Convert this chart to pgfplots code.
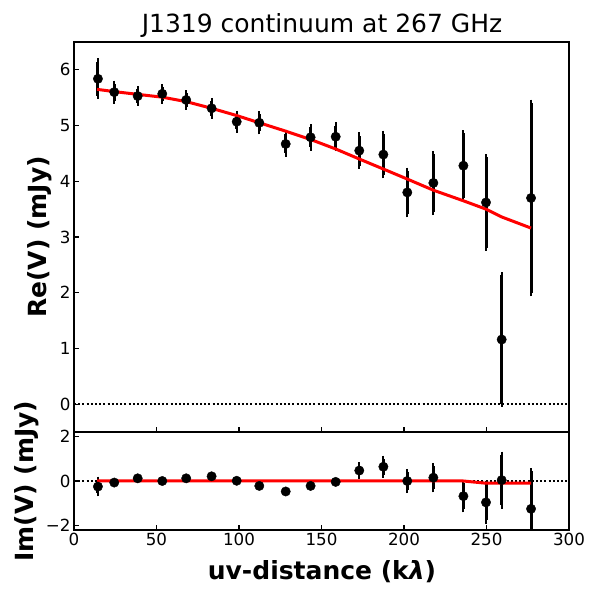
\documentclass[border=0pt]{standalone}
\usepackage{fontspec}
\setmainfont{DejaVu Sans}
\usepackage{pgfplots}
\pgfplotsset{compat=1.18}
\usepackage{pgfplotstable}

\pgfplotstableread{
x re ere im eim
14.5 5.84 0.31 -0.25 0.30
24.4 5.60 0.15 -0.07 0.0
38.6 5.53 0.12 0.12 0.0
53.5 5.57 0.12 0.00 0.0
68.0 5.46 0.12 0.12 0.0
83.4 5.31 0.13 0.21 0.0
98.6 5.07 0.14 0.01 0.0
112.3 5.05 0.15 -0.22 0.0
128.3 4.67 0.17 -0.47 0.0
143.4 4.79 0.18 -0.22 0.0
158.6 4.80 0.20 -0.04 0.05
172.9 4.55 0.27 0.47 0.22
187.5 4.48 0.37 0.64 0.36
202.0 3.80 0.39 0.00 0.40
217.8 3.97 0.52 0.15 0.52
236.0 4.28 0.58 -0.68 0.58
249.7 3.62 0.81 -0.96 0.81
259.2 1.16 1.15 0.04 1.14
277.0 3.70 1.71 -1.25 1.68
}\data

\pgfplotstableread{
x re im
14.0 5.65 0.0
24.4 5.61 0.0
38.6 5.56 0.0
53.5 5.51 0.0
68.0 5.43 0.0
83.4 5.31 0.0
98.6 5.18 0.0
112.3 5.05 0.0
128.3 4.90 0.0
143.4 4.75 0.0
158.6 4.58 0.0
172.9 4.40 0.0
187.5 4.22 0.0
202.0 4.04 0.0
217.8 3.84 0.0
236.0 3.65 0.0
249.7 3.50 -0.1
259.2 3.36 -0.1
277.0 3.16 -0.1
}\model

\pgfplotsset{
  myaxis/.style={
    anchor=south west, scale only axis, width=495bp,
    xmin=0, xmax=300, xtick={0,50,...,300},
    tick align=inside, tick pos=left,
    major tick length=5bp,
    every tick/.style={black, line width=1.1bp},
    axis line style={line width=1.1bp, black},
    ticklabel style={font=\fontsize{16.7bp}{20bp}\selectfont},
    /pgf/number format/assume math mode=true,
    clip=true,
  },
  errstyle/.style={only marks, mark=none, black,
    error bars/.cd, y dir=both, y explicit,
    error bar style={line width=3bp, black},
    error mark=-,
    error mark options={line width=2bp, mark size=3.2bp, black}},
  markstyle/.style={only marks, mark=*, black, mark size=4.7bp,
    mark options={solid, fill=black}},
  zerostyle/.style={black, line width=2bp, dash pattern=on 2bp off 2.2bp},
  modelstyle/.style={red, line width=3bp, no markers},
}

\begin{document}
\begin{tikzpicture}
\useasboundingbox (0,0) rectangle (600bp,600bp);
\begin{axis}[myaxis, at={(74bp,168bp)}, height=390bp,
  ymin=-0.5, ymax=6.5, ytick={0,1,...,6}, xticklabels={}]
\addplot[zerostyle] coordinates {(0,0) (300,0)};
\addplot[errstyle] table[x=x, y=re, y error=ere] {\data};
\addplot[markstyle] table[x=x, y=re] {\data};
\addplot[modelstyle] table[x=x, y=re] {\model};
\end{axis}
\begin{axis}[myaxis, at={(74bp,70bp)}, height=98bp,
  ymin=-2.2, ymax=2.2, ytick={-2,0,2}, yticklabels={−2,0,2}]
\addplot[zerostyle] coordinates {(0,0) (300,0)};
\addplot[errstyle] table[x=x, y=im, y error=eim] {\data};
\addplot[markstyle] table[x=x, y=im] {\data};
\addplot[modelstyle] table[x=x, y=im] {\model};
\end{axis}
\node[rotate=90, font=\fontsize{25bp}{30bp}\selectfont\bfseries] at (40bp,363bp) {Re(V) (mJy)};
\node[rotate=90, font=\fontsize{25bp}{30bp}\selectfont\bfseries] at (27bp,119bp) {Im(V) (mJy)};
\node[font=\fontsize{25bp}{30bp}\selectfont\bfseries] at (322bp,28bp) {uv-distance (k\textit{λ})};
\node[font=\fontsize{25bp}{30bp}\selectfont] at (322bp,574bp) {J1319 continuum at 267 GHz};
\end{tikzpicture}
\end{document}
